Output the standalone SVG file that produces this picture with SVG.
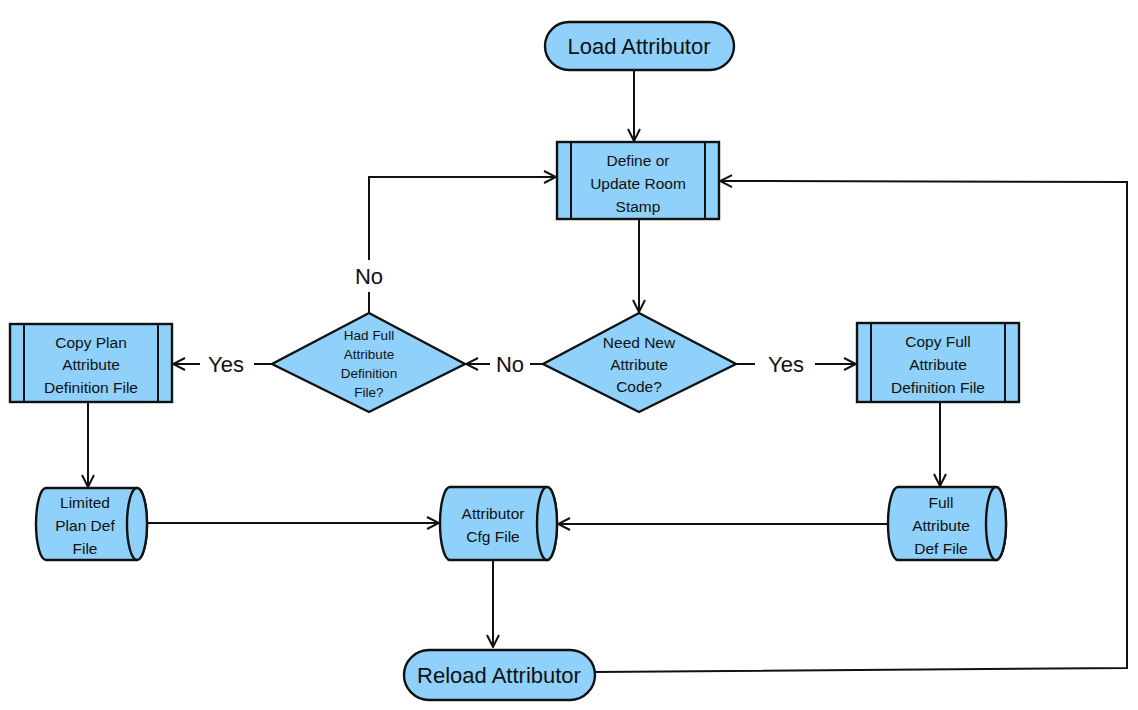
<svg xmlns="http://www.w3.org/2000/svg" width="1138" height="710" viewBox="0 0 1138 710">
<defs>
<style>
.n{fill:#8fd1fa;stroke:#111;stroke-width:2.4}
.l{fill:none;stroke:#111;stroke-width:2}
.c{fill:none;stroke:#111;stroke-width:2}
text{font-family:"Liberation Sans","DejaVu Sans",sans-serif;fill:#111;text-anchor:middle;dominant-baseline:central}
.t14{font-size:15.5px}
.t13{font-size:13.5px}
.t20{font-size:22px}
.lab{font-size:22px}
</style>
<marker id="ah" viewBox="0 0 14 14" refX="13" refY="7" markerWidth="14" markerHeight="14" markerUnits="userSpaceOnUse" orient="auto">
<path d="M1,1 L13,7 L1,13" fill="none" stroke="#111" stroke-width="2"/>
</marker>
</defs>
<rect width="1138" height="710" fill="#fff"/>
<g id="connectors">
<path class="c" d="M634,70 L634,141" marker-end="url(#ah)"/>
<path class="c" d="M639,219 L639,312" marker-end="url(#ah)"/>
<path class="c" d="M543,364 L530,364"/>
<path class="c" d="M490,364 L466,364" marker-end="url(#ah)"/>
<path class="c" d="M369,313 L369,292"/>
<path class="c" d="M369,260 L369,177 L556,177" marker-end="url(#ah)"/>
<path class="c" d="M736,364 L755,364"/>
<path class="c" d="M815,364 L856,364" marker-end="url(#ah)"/>
<path class="c" d="M272,364 L254,364"/>
<path class="c" d="M200,364 L173,364" marker-end="url(#ah)"/>
<path class="c" d="M88,402 L88,487" marker-end="url(#ah)"/>
<path class="c" d="M940,402 L940,486" marker-end="url(#ah)"/>
<path class="c" d="M147,523 L439,523" marker-end="url(#ah)"/>
<path class="c" d="M888,524 L558,524" marker-end="url(#ah)"/>
<path class="c" d="M493,560 L493,647" marker-end="url(#ah)"/>
<path class="c" d="M595,672 L1127,668 L1127,182 L720,181" marker-end="url(#ah)"/>
<text class="lab" x="510" y="364">No</text>
<text class="lab" x="369" y="276">No</text>
<text class="lab" x="786" y="364">Yes</text>
<text class="lab" x="226" y="364">Yes</text>
</g>
<g id="load">
<rect class="n" x="545" y="22" width="189" height="48" rx="24"/>
<text class="t20" x="639" y="46">Load Attributor</text>
</g>
<g id="define">
<rect class="n" x="557" y="142" width="162" height="77"/>
<path class="l" d="M571,142 L571,219 M705,142 L705,219"/>
<text class="t14" x="638" y="160">Define or</text>
<text class="t14" x="638" y="183">Update Room</text>
<text class="t14" x="638" y="206">Stamp</text>
</g>
<g id="need">
<path class="n" d="M639,313 L736,364 L639,412 L543,364 Z"/>
<text class="t14" x="639" y="342">Need New</text>
<text class="t14" x="639" y="364">Attribute</text>
<text class="t14" x="639" y="386">Code?</text>
</g>
<g id="had">
<path class="n" d="M369,313 L465,364 L369,412 L272,364 Z"/>
<text class="t13" x="369" y="335">Had Full</text>
<text class="t13" x="369" y="354">Attribute</text>
<text class="t13" x="369" y="373">Definition</text>
<text class="t13" x="369" y="392">File?</text>
</g>
<g id="copyplan">
<rect class="n" x="10" y="324" width="162" height="78"/>
<path class="l" d="M24,324 L24,402 M158,324 L158,402"/>
<text class="t14" x="91" y="342">Copy Plan</text>
<text class="t14" x="91" y="364">Attribute</text>
<text class="t14" x="91" y="387">Definition File</text>
</g>
<g id="copyfull">
<rect class="n" x="857" y="323" width="162" height="79"/>
<path class="l" d="M871,323 L871,402 M1005,323 L1005,402"/>
<text class="t14" x="938" y="341">Copy Full</text>
<text class="t14" x="938" y="364">Attribute</text>
<text class="t14" x="938" y="387">Definition File</text>
</g>
<g id="limited">
<path class="n" d="M46,488 L137,488 A10,36 0 0 1 137,560 L46,560 A10,36 0 0 1 46,488 Z"/>
<ellipse class="n" cx="137" cy="524" rx="10" ry="36"/>
<text class="t14" x="85" y="502">Limited</text>
<text class="t14" x="85" y="525">Plan Def</text>
<text class="t14" x="85" y="548">File</text>
</g>
<g id="cfg">
<path class="n" d="M450,487 L547,487 A10,36.5 0 0 1 547,560 L450,560 A10,36.5 0 0 1 450,487 Z"/>
<ellipse class="n" cx="547" cy="523.5" rx="10" ry="36.5"/>
<text class="t14" x="493" y="513">Attributor</text>
<text class="t14" x="493" y="536">Cfg File</text>
</g>
<g id="fulldef">
<path class="n" d="M898,487 L996,487 A10,36.5 0 0 1 996,560 L898,560 A10,36.5 0 0 1 898,487 Z"/>
<ellipse class="n" cx="996" cy="523.5" rx="10" ry="36.5"/>
<text class="t14" x="941" y="502">Full</text>
<text class="t14" x="941" y="525">Attribute</text>
<text class="t14" x="941" y="548">Def File</text>
</g>
<g id="reload">
<rect class="n" x="404" y="650" width="191" height="50" rx="25"/>
<text class="t20" x="499" y="675">Reload Attributor</text>
</g>
</svg>
